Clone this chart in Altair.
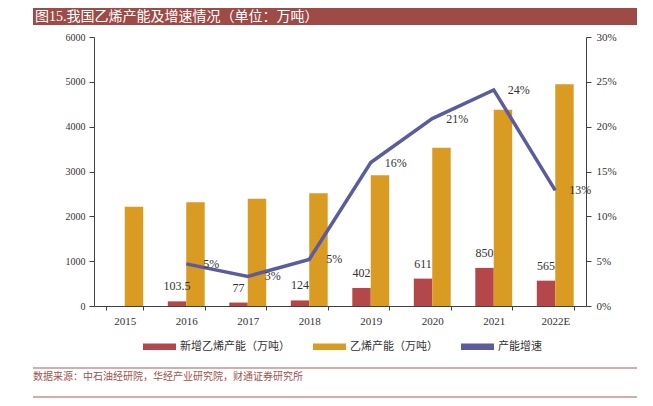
import altair as alt
import pandas as pd

years = ["2015", "2016", "2017", "2018", "2019", "2020", "2021", "2022E"]
capacity = [2212, 2316, 2393, 2517, 2919, 3530, 4380, 4945]
new_capacity = [None, 103.5, 77, 124, 402, 611, 850, 565]
new_labels = ["", "103.5", "77", "124", "402", "611", "850", "565"]
growth = [None, 0.047, 0.033, 0.052, 0.16, 0.209, 0.241, 0.129]

s_new = "新增乙烯产能（万吨）"
s_cap = "乙烯产能（万吨）"
s_growth = "产能增速"
series_names = [s_new, s_cap]
legend_names = [s_new, s_cap, s_growth]
colors = ["#b4474a", "#da9b23", "#5b5c9e"]

title_text = "图15.我国乙烯产能及增速情况（单位：万吨）"
source_text = "数据来源：中石油经研院，华经产业研究院，财通证券研究所"

FONT = "Liberation Serif, Noto Sans CJK SC"
CJK = "Noto Sans CJK SC"

rows = []
for y, c, n, lab in zip(years, capacity, new_capacity, new_labels):
    if n is not None:
        rows.append({"year": y, "series": s_new, "value": n, "label": lab})
    rows.append({"year": y, "series": s_cap, "value": c, "label": ""})
bars_df = pd.DataFrame(rows)
newlab_df = bars_df[bars_df["series"] == s_new]

line_df = pd.DataFrame(
    [{"year": y, "growth": g} for y, g in zip(years, growth) if g is not None]
)

xscale = alt.Scale(domain=years, paddingInner=0.4, paddingOuter=0.2)
xaxis = alt.Axis(labelAngle=0, tickBand="extent", tickSize=4, labelPadding=5,
                 labelFontSize=11, labelFont=FONT, labelColor="#333333",
                 domainColor="#404040", tickColor="#404040")
xoff = alt.XOffset("series:N", scale=alt.Scale(domain=series_names, paddingInner=0, paddingOuter=0))
y1 = alt.Scale(domain=[0, 6000], nice=False)
y2 = alt.Scale(domain=[0, 0.30], nice=False)

legend_path = "M-1,-0.2L1,-0.2L1,0.2L-1,0.2Z"

bars = alt.Chart(bars_df).mark_bar().encode(
    x=alt.X("year:N", scale=xscale, sort=years, title=None, axis=xaxis),
    xOffset=xoff,
    y=alt.Y("value:Q", scale=y1, title=None,
            axis=alt.Axis(orient="left", values=[0, 1000, 2000, 3000, 4000, 5000, 6000],
                          format="d", grid=False, tickSize=5, labelPadding=4, labelFontSize=10,
                          labelFont=FONT, labelColor="#333333",
                          domainColor="#404040", tickColor="#404040")),
    color=alt.Color("series:N",
                    scale=alt.Scale(domain=legend_names, range=colors),
                    legend=alt.Legend(title=None, orient="none", legendX=49, legendY=293,
                                      direction="horizontal", symbolType=legend_path,
                                      symbolSize=1089, symbolStrokeWidth=0,
                                      labelOffset=4, columnPadding=23,
                                      labelFontSize=11, labelFont=CJK,
                                      labelColor="#333333")),
)

bar_text = alt.Chart(newlab_df).mark_text(
    dy=-15, baseline="middle", fontSize=12, font=FONT, color="#333333"
).encode(
    x=alt.X("year:N", scale=xscale, sort=years, title=None, axis=xaxis),
    xOffset=xoff,
    y=alt.Y("value:Q", scale=y1),
    text="label:N",
)

line = alt.Chart(line_df).mark_line(strokeWidth=3.5, color=colors[2]).encode(
    x=alt.X("year:N", scale=xscale, sort=years, title=None, axis=xaxis),
    y=alt.Y("growth:Q", scale=y2, title=None,
            axis=alt.Axis(orient="right", format=".0%", values=[0, 0.05, 0.1, 0.15, 0.2, 0.25, 0.3],
                          grid=False, tickSize=5, labelPadding=5, labelFontSize=11,
                          labelFont=FONT, labelColor="#333333",
                          domainColor="#404040", tickColor="#404040")),
)

line_text = alt.Chart(line_df).mark_text(
    dx=25, baseline="middle", fontSize=12, font=FONT, color="#333333"
).encode(
    x=alt.X("year:N", scale=xscale, sort=years, title=None, axis=xaxis),
    y=alt.Y("growth:Q", scale=y2),
    text=alt.Text("growth:Q", format=".0%"),
)

deco_df = pd.DataFrame({"title": [title_text], "source": [source_text]})
deco = alt.Chart(deco_df)
title_bar = deco.mark_rect(color="#9e4a46").encode(
    x=alt.value(-61), x2=alt.value(543), y=alt.value(-29), y2=alt.value(-12)
)
title_txt = deco.mark_text(align="left", baseline="middle", fontSize=14, font=FONT,
                           color="#ffffff").encode(
    x=alt.value(-59), y=alt.value(-20.5), text="title:N"
)
line_top = deco.mark_rule(color="#c9908e", strokeWidth=1.5).encode(
    x=alt.value(-61), x2=alt.value(543), y=alt.value(331)
)
source_txt = deco.mark_text(align="left", baseline="middle", fontSize=10, font=CJK,
                            color="#a0524f").encode(
    x=alt.value(-61), y=alt.value(340), text="source:N"
)
line_bot = deco.mark_rule(color="#c9908e", strokeWidth=1.5).encode(
    x=alt.value(-61), x2=alt.value(543), y=alt.value(360)
)

main = alt.layer(alt.layer(bars, bar_text), alt.layer(line, line_text)).resolve_scale(y="independent")

chart = alt.layer(main, title_bar, title_txt, line_top, source_txt, line_bot).properties(
    width=492, height=269,
    padding={"left": 86, "top": 29, "right": 55, "bottom": 92},
    autosize=alt.AutoSizeParams(type="none"),
).configure_view(stroke=None)

chart.save("out.html", embed_options={"renderer": "svg", "actions": False})
